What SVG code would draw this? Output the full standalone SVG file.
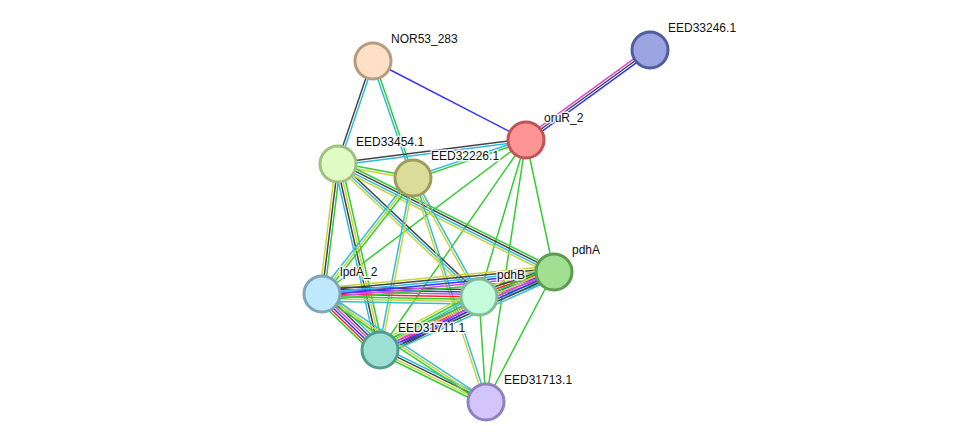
<svg xmlns="http://www.w3.org/2000/svg" width="976" height="448" viewBox="0 0 976 448">
<style>
line{stroke-width:1.5;fill:none}
.n{stroke:#33cc33}.t{stroke:#c8d43a}.d{stroke:#33bbdd}.c{stroke:#444}
.e{stroke:#dd44dd}.o{stroke:#3333ff}.f{stroke:#ff2222}
circle{stroke-width:3}
text{font-family:"Liberation Sans",Arial,sans-serif;font-size:12px;fill:#111;stroke:#fff;stroke-width:3px;stroke-opacity:0.85;paint-order:stroke;stroke-linejoin:round}
</style>
<rect width="976" height="448" fill="#fff"/>
<g id="edges">
<line class="o" x1="373" y1="61" x2="526" y2="140"/>
<g transform="translate(373,61) rotate(108.77)"><line class="c" x2="108.8" y1="1.2" y2="1.2"/><line class="d" x2="108.8" y1="-1.2" y2="-1.2"/></g>
<g transform="translate(373,61) rotate(71.13)"><line class="d" x2="123.7" y1="1.2" y2="1.2"/><line class="n" x2="123.7" y1="-1.2" y2="-1.2"/></g>
<g transform="translate(650,50) rotate(144.03)"><line class="e" x2="153.2" y1="2.4" y2="2.4"/><line class="c" x2="153.2"/><line class="o" x2="153.2" y1="-2.4" y2="-2.4"/></g>
<g transform="translate(526,140) rotate(172.73)"><line class="c" x2="189.5" y1="1.2" y2="1.2"/><line class="d" x2="189.5" y1="-1.2" y2="-1.2"/></g>
<g transform="translate(526,140) rotate(161.41)"><line class="d" x2="119.2" y1="1.2" y2="1.2"/><line class="n" x2="119.2" y1="-1.2" y2="-1.2"/></g>
<line class="n" x1="526" y1="140" x2="322" y2="294"/>
<line class="n" x1="526" y1="140" x2="380" y2="350"/>
<line class="n" x1="526" y1="140" x2="479" y2="297"/>
<line class="n" x1="526" y1="140" x2="554" y2="272"/>
<line class="n" x1="526" y1="140" x2="486" y2="402"/>
<g transform="translate(338,164) rotate(10.57)"><line class="n" x2="76.3" y1="-1.2" y2="-1.2"/><line class="t" x2="76.3" y1="1.2" y2="1.2"/></g>
<g transform="translate(338,164) rotate(97.02)"><line class="t" x2="131" y1="2.4" y2="2.4"/><line class="c" x2="131"/><line class="n" x2="131" y1="-2.4" y2="-2.4"/></g>
<g transform="translate(338,164) rotate(77.28)"><line class="d" x2="190.7" y1="3.6" y2="3.6"/><line class="c" x2="190.7" y1="1.2" y2="1.2"/><line class="t" x2="190.7" y1="-1.2" y2="-1.2"/><line class="n" x2="190.7" y1="-3.6" y2="-3.6"/></g>
<g transform="translate(338,164) rotate(43.33)"><line class="c" x2="193.8" y1="-2.4" y2="-2.4"/><line class="d" x2="193.8"/><line class="t" x2="193.8" y1="2.4" y2="2.4"/></g>
<g transform="translate(338,164) rotate(26.57)"><line class="n" x2="241.5" y1="-3.6" y2="-3.6"/><line class="c" x2="241.5" y1="-1.2" y2="-1.2"/><line class="d" x2="241.5" y1="1.2" y2="1.2"/><line class="t" x2="241.5" y1="3.6" y2="3.6"/></g>
<g transform="translate(413,178) rotate(128.11)"><line class="d" x2="147.4" y1="2.4" y2="2.4"/><line class="t" x2="147.4"/><line class="n" x2="147.4" y1="-2.4" y2="-2.4"/></g>
<g transform="translate(413,178) rotate(100.86)"><line class="d" x2="175.1" y1="1.2" y2="1.2"/><line class="t" x2="175.1" y1="-1.2" y2="-1.2"/></g>
<g transform="translate(413,178) rotate(60.99)"><line class="t" x2="136.1" y1="1.2" y2="1.2"/><line class="d" x2="136.1" y1="-1.2" y2="-1.2"/></g>
<g transform="translate(413,178) rotate(71.95)"><line class="t" x2="235.6" y1="1.2" y2="1.2"/><line class="d" x2="235.6" y1="-1.2" y2="-1.2"/></g>
<g transform="translate(322,294) rotate(43.99)"><line class="t" x2="80.6" y1="-7.2" y2="-7.2"/><line class="d" x2="80.6" y1="-4.8" y2="-4.8"/><line class="c" x2="80.6" y1="-2.4" y2="-2.4"/><line class="e" x2="80.6"/><line class="o" x2="80.6" y1="2.4" y2="2.4"/><line class="f" x2="80.6" y1="4.8" y2="4.8"/><line class="n" x2="80.6" y1="7.2" y2="7.2"/></g>
<g transform="translate(322,294) rotate(1.09)"><line class="c" x2="157" y1="-7.2" y2="-7.2"/><line class="o" x2="157" y1="-4.8" y2="-4.8"/><line class="e" x2="157" y1="-2.4" y2="-2.4"/><line class="f" x2="157"/><line class="n" x2="157" y1="2.4" y2="2.4"/><line class="t" x2="157" y1="4.8" y2="4.8"/><line class="d" x2="157" y1="7.2" y2="7.2"/></g>
<g transform="translate(322,294) rotate(-5.42)"><line class="t" x2="233" y1="-6" y2="-6"/><line class="c" x2="233" y1="-3.6" y2="-3.6"/><line class="d" x2="233" y1="-1.2" y2="-1.2"/><line class="o" x2="233" y1="1.2" y2="1.2"/><line class="e" x2="233" y1="3.6" y2="3.6"/><line class="n" x2="233" y1="6" y2="6"/></g>
<g transform="translate(479,297) rotate(-18.43)"><line class="t" x2="79.1" y1="-7.2" y2="-7.2"/><line class="c" x2="79.1" y1="-4.8" y2="-4.8"/><line class="f" x2="79.1" y1="-2.4" y2="-2.4"/><line class="o" x2="79.1"/><line class="e" x2="79.1" y1="2.4" y2="2.4"/><line class="n" x2="79.1" y1="4.8" y2="4.8"/><line class="d" x2="79.1" y1="7.2" y2="7.2"/></g>
<g transform="translate(380,350) rotate(-28.16)"><line class="t" x2="112.3" y1="-7.2" y2="-7.2"/><line class="n" x2="112.3" y1="-4.8" y2="-4.8"/><line class="d" x2="112.3" y1="-2.4" y2="-2.4"/><line class="e" x2="112.3"/><line class="f" x2="112.3" y1="2.4" y2="2.4"/><line class="o" x2="112.3" y1="4.8" y2="4.8"/><line class="c" x2="112.3" y1="7.2" y2="7.2"/></g>
<g transform="translate(380,350) rotate(-24.15)"><line class="n" x2="190.7" y1="-6" y2="-6"/><line class="t" x2="190.7" y1="-3.6" y2="-3.6"/><line class="e" x2="190.7" y1="-1.2" y2="-1.2"/><line class="o" x2="190.7" y1="1.2" y2="1.2"/><line class="c" x2="190.7" y1="3.6" y2="3.6"/><line class="d" x2="190.7" y1="6" y2="6"/></g>
<g transform="translate(380,350) rotate(26.13)"><line class="d" x2="118.1" y1="-3.6" y2="-3.6"/><line class="c" x2="118.1" y1="-1.2" y2="-1.2"/><line class="t" x2="118.1" y1="1.2" y2="1.2"/><line class="n" x2="118.1" y1="3.6" y2="3.6"/></g>
<g transform="translate(322,294) rotate(33.37)"><line class="d" x2="196.4" y1="-2.4" y2="-2.4"/><line class="t" x2="196.4"/><line class="n" x2="196.4" y1="2.4" y2="2.4"/></g>
<line class="n" x1="479" y1="297" x2="486" y2="402"/>
<line class="n" x1="554" y1="272" x2="486" y2="402"/>
</g>
<g id="NOR53_283"><circle cx="373" cy="61" r="18" fill="#fde0c5" stroke="#b89a7c"/><text x="391" y="43">NOR53_283</text></g>
<g id="EED33246.1"><circle cx="650" cy="50" r="18" fill="#9ba4e0" stroke="#525ca0"/><text x="668" y="32">EED33246.1</text></g>
<g id="oruR_2"><circle cx="526" cy="140" r="18" fill="#ff9494" stroke="#c05454"/><text x="544" y="122">oruR_2</text></g>
<g id="EED33454.1"><circle cx="338" cy="164" r="18" fill="#e0fcc4" stroke="#a0c080"/><text x="356" y="146">EED33454.1</text></g>
<g id="EED32226.1"><circle cx="413" cy="178" r="18" fill="#dcdc9a" stroke="#9c9c5c"/><text x="431" y="160">EED32226.1</text></g>
<g id="lpdA_2"><circle cx="322" cy="294" r="18" fill="#c0e8fc" stroke="#7ca4bc"/><text x="340" y="276">lpdA_2</text></g>
<g id="pdhA"><circle cx="554" cy="272" r="18" fill="#a0e090" stroke="#5c9c50"/><text x="572" y="254">pdhA</text></g>
<g id="pdhB"><circle cx="479" cy="297" r="18" fill="#c4fcdc" stroke="#80bc98"/><text x="497" y="279">pdhB</text></g>
<g id="EED31711.1"><circle cx="380" cy="350" r="18" fill="#9ce0d4" stroke="#509c90"/><text x="398" y="332">EED31711.1</text></g>
<g id="EED31713.1"><circle cx="486" cy="402" r="18" fill="#d4c4fc" stroke="#9080c0"/><text x="504" y="384">EED31713.1</text></g>
</svg>
